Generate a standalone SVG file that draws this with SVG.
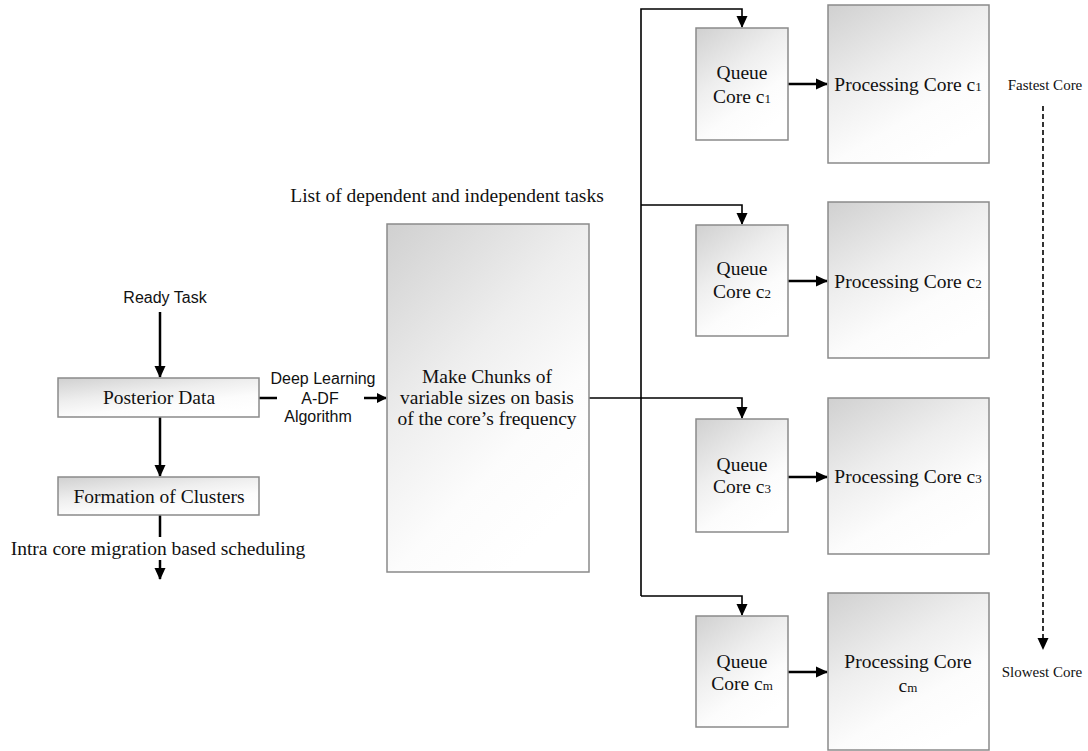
<svg xmlns="http://www.w3.org/2000/svg" width="1088" height="751" viewBox="0 0 1088 751">
<defs>
<linearGradient id="g" x1="0" y1="0" x2="0.6" y2="1">
<stop offset="0" stop-color="#d0d0d0"/>
<stop offset="0.45" stop-color="#eeeeee"/>
<stop offset="0.75" stop-color="#fcfcfc"/>
<stop offset="1" stop-color="#ffffff"/>
</linearGradient>
<marker id="ah" markerWidth="10" markerHeight="10" refX="9" refY="5" orient="auto" markerUnits="userSpaceOnUse">
<path d="M0,0 L10,5 L0,10 Z" fill="#000"/>
</marker>
<marker id="ahs" markerWidth="12" markerHeight="12" refX="11" refY="6" orient="auto" markerUnits="userSpaceOnUse">
<path d="M0,0.5 L12,6 L0,11.5 Z" fill="#000"/>
</marker>
</defs>
<style>
.box{fill:url(#g);stroke:#8a8a8a;stroke-width:1.5}
.t{font-family:"Liberation Serif","Times New Roman",serif;font-size:19.5px;fill:#111;text-anchor:middle}
.s{font-family:"Liberation Sans",Arial,sans-serif;font-size:16px;fill:#111;text-anchor:middle}
.sm{font-family:"Liberation Serif","Times New Roman",serif;font-size:15px;fill:#111;text-anchor:middle}
.sub{font-size:13px}
.c{stroke:#000;stroke-width:2.5;fill:none}
.bus{stroke:#000;stroke-width:1.6;fill:none}
</style>

<g id="connectors">
<line class="c" x1="160" y1="312" x2="160" y2="377" marker-end="url(#ahs)"/>
<line class="c" x1="160" y1="417" x2="160" y2="476" marker-end="url(#ahs)"/>
<line class="c" x1="160" y1="515" x2="160" y2="537"/>
<line class="c" x1="160" y1="560" x2="160" y2="579" marker-end="url(#ahs)"/>
<line class="c" x1="259" y1="398" x2="277" y2="398"/>
<line class="c" x1="364" y1="398" x2="386" y2="398" marker-end="url(#ah)"/>
<polyline class="bus" points="589,398 641,398"/>
<polyline class="bus" points="641,596 641,9 742,9 742,27" marker-end="url(#ahs)"/>
<polyline class="bus" points="641,205 742,205 742,224" marker-end="url(#ahs)"/>
<polyline class="bus" points="641,398 742,398 742,418" marker-end="url(#ahs)"/>
<polyline class="bus" points="641,596 742,596 742,615" marker-end="url(#ahs)"/>
<line class="c" x1="788" y1="84" x2="827" y2="84" marker-end="url(#ahs)"/>
<line class="c" x1="788" y1="281" x2="827" y2="281" marker-end="url(#ahs)"/>
<line class="c" x1="788" y1="477" x2="827" y2="477" marker-end="url(#ahs)"/>
<line class="c" x1="788" y1="672" x2="827" y2="672" marker-end="url(#ahs)"/>
<line x1="1043" y1="106" x2="1043" y2="649" stroke="#000" stroke-width="1.6" stroke-dasharray="5,3" marker-end="url(#ahs)"/>
</g>

<g id="labels">
<text class="s" x="165" y="303">Ready Task</text>
<text class="s" x="323" y="384">Deep Learning</text>
<text class="s" x="320" y="404">A-DF</text>
<text class="s" x="318" y="422">Algorithm</text>
<text class="t" x="158" y="555">Intra core migration based scheduling</text>
<text class="t" x="447" y="202">List of dependent and independent tasks</text>
<text class="sm" x="1045" y="90">Fastest Core</text>
<text class="sm" x="1042" y="677">Slowest Core</text>
</g>

<g id="posterior">
<rect class="box" x="58" y="378" width="201" height="39"/>
<text class="t" x="159" y="404">Posterior Data</text>
</g>
<g id="clusters">
<rect class="box" x="58" y="477" width="201" height="38"/>
<text class="t" x="159" y="503">Formation of Clusters</text>
</g>
<g id="chunks">
<rect class="box" x="387" y="224" width="202" height="348"/>
<text class="t" x="487" y="383">Make Chunks of</text>
<text class="t" x="487" y="404">variable sizes on basis</text>
<text class="t" x="487" y="425">of the core’s frequency</text>
</g>

<g id="queue1">
<rect class="box" x="696" y="28" width="92" height="112"/>
<text class="t" x="742" y="79">Queue</text>
<text class="t" x="742" y="103">Core c<tspan class="sub">1</tspan></text>
</g>
<g id="proc1">
<rect class="box" x="828" y="5" width="161" height="158"/>
<text class="t" x="908" y="91">Processing Core c<tspan class="sub">1</tspan></text>
</g>

<g id="queue2">
<rect class="box" x="696" y="225" width="92" height="111"/>
<text class="t" x="742" y="275">Queue</text>
<text class="t" x="742" y="298">Core c<tspan class="sub">2</tspan></text>
</g>
<g id="proc2">
<rect class="box" x="828" y="202" width="161" height="156"/>
<text class="t" x="908" y="288">Processing Core c<tspan class="sub">2</tspan></text>
</g>

<g id="queue3">
<rect class="box" x="696" y="419" width="92" height="113"/>
<text class="t" x="742" y="471">Queue</text>
<text class="t" x="742" y="493">Core c<tspan class="sub">3</tspan></text>
</g>
<g id="proc3">
<rect class="box" x="828" y="398" width="161" height="156"/>
<text class="t" x="908" y="483">Processing Core c<tspan class="sub">3</tspan></text>
</g>

<g id="queuem">
<rect class="box" x="696" y="616" width="92" height="111"/>
<text class="t" x="742" y="668">Queue</text>
<text class="t" x="742" y="690">Core c<tspan class="sub">m</tspan></text>
</g>
<g id="procm">
<rect class="box" x="828" y="593" width="161" height="157"/>
<text class="t" x="908" y="668">Processing Core</text>
<text class="t" x="908" y="692">c<tspan class="sub">m</tspan></text>
</g>
</svg>
